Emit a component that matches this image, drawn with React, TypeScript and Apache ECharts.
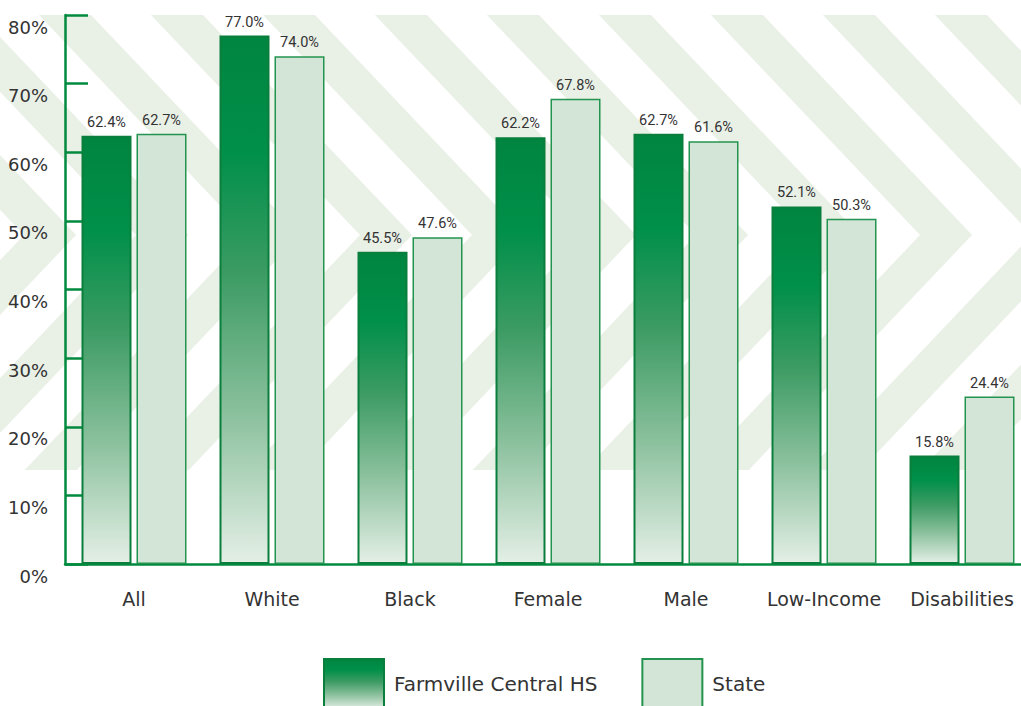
import React, { useEffect, useRef } from "react";
import * as echarts from "echarts";

const categories = ["All", "White", "Black", "Female", "Male", "Low-Income", "Disabilities"];
const schoolValues = [62.4, 77.0, 45.5, 62.2, 62.7, 52.1, 15.8];
const stateValues = [62.7, 74.0, 47.6, 67.8, 61.6, 50.3, 24.4];
const seriesNames = ["Farmville Central HS", "State"];

const GREEN = "#008a3e";
const TEXT = "#333333";

function buildPattern() {
  const els: any[] = [];
  const top = 15;
  const apex = 235;
  const bottom = 470;
  const s = 0.95;
  const w = 52;
  const period = 112;
  for (let ax = -200; ax < 1400; ax += period) {
    const h1 = apex - top;
    const h2 = bottom - apex;
    els.push({
      type: "polygon",
      z: -10,
      silent: true,
      shape: {
        points: [
          [ax - s * h1, top],
          [ax - s * h1 + w, top],
          [ax + w, apex],
          [ax + w - s * h2, bottom],
          [ax - s * h2, bottom],
          [ax, apex],
        ],
      },
      style: { fill: "#e9f0e6" },
    });
  }
  return els;
}

export default function App() {
  const ref = useRef<HTMLDivElement>(null);
  useEffect(() => {
    document.body.style.margin = "0";
    const chart = echarts.init(ref.current!, null, { renderer: "svg" });
    const schoolGradient = new echarts.graphic.LinearGradient(0, 0, 0, 1, [
      { offset: 0, color: "#008540" },
      { offset: 0.22, color: "#009049" },
      { offset: 0.45, color: "#3c9b63" },
      { offset: 0.72, color: "#8cc19e" },
      { offset: 1, color: "#e4efe6" },
    ]);
    const valueLabel = {
      show: true,
      position: "top",
      distance: 6,
      formatter: (p: any) => p.value.toFixed(1) + "%",
      fontSize: 14.5,
      color: TEXT,
      fontFamily: "Roboto",
    };
    chart.setOption({
      animation: false,
      backgroundColor: "#ffffff",
      graphic: buildPattern(),
      grid: { left: 65, top: 15, right: 0, bottom: 142, containLabel: false },
      legend: {
        left: 323,
        top: 658,
        padding: 0,
        icon: "rect",
        itemWidth: 60,
        itemHeight: 50,
        itemGap: 44,
        textStyle: { fontSize: 20, color: TEXT, fontFamily: "DejaVu Sans", padding: [0, 0, 0, 5] },
        data: seriesNames,
      },
      xAxis: {
        type: "category",
        data: categories,
        axisLine: { lineStyle: { color: GREEN, width: 2.5 } },
        axisTick: { inside: true, length: 15, lineStyle: { color: GREEN, width: 2.5 } },
        axisLabel: { interval: 0, fontSize: 19, color: TEXT, fontFamily: "DejaVu Sans", margin: 25 },
        splitLine: { show: false },
      },
      yAxis: {
        type: "value",
        min: 0,
        max: 80,
        interval: 10,
        axisLine: { show: true, lineStyle: { color: GREEN, width: 2.5 } },
        axisTick: { show: true, inside: true, length: 23, lineStyle: { color: GREEN, width: 2.5 } },
        axisLabel: {
          formatter: "{value}%",
          fontSize: 18,
          color: TEXT,
          fontFamily: "DejaVu Sans",
          margin: 17,
          verticalAlign: "top",
          padding: [3, 0, 0, 0],
        },
        splitLine: { show: false },
      },
      series: [
        {
          name: seriesNames[0],
          type: "bar",
          data: schoolValues,
          barWidth: 50,
          barGap: "10%",
          z: 3,
          itemStyle: { color: schoolGradient, borderColor: "#0a7f3d", borderWidth: 2 },
          label: valueLabel,
        },
        {
          name: seriesNames[1],
          type: "bar",
          data: stateValues,
          barWidth: 50,
          z: 3,
          itemStyle: { color: "#d3e5d7", borderColor: "#23944f", borderWidth: 1.5 },
          label: valueLabel,
        },
      ],
    });
    return () => chart.dispose();
  }, []);
  return (
    <div style={{ width: 1021, height: 706, overflow: "hidden" }}>
      <div ref={ref} style={{ width: 1031, height: 706 }} />
    </div>
  );
}
